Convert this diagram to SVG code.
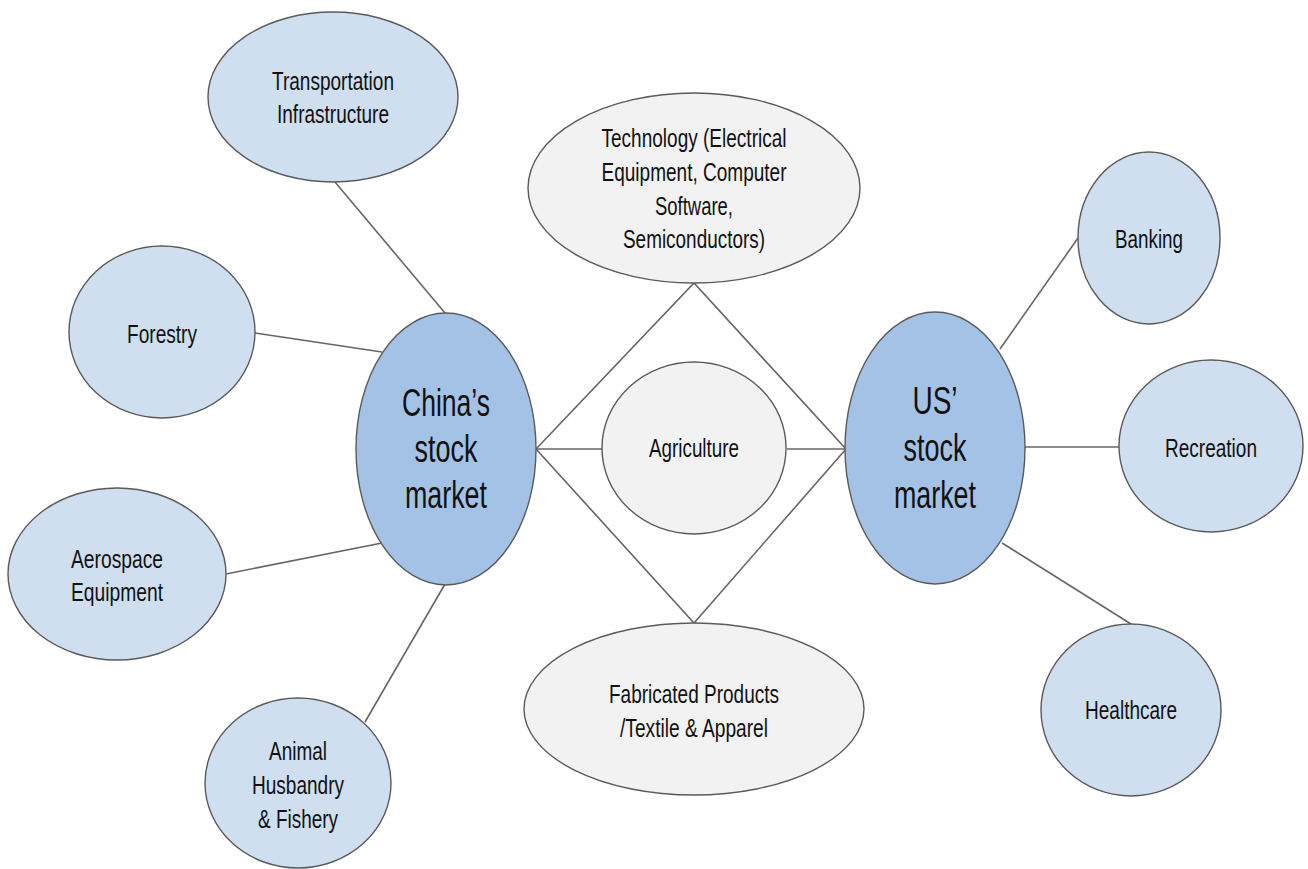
<svg xmlns="http://www.w3.org/2000/svg" width="1308" height="869" viewBox="0 0 1308 869">
<style>
.light{fill:#cfdff0;stroke:#5a5a5a;stroke-width:1.4}
.dark{fill:#a4c2e6;stroke:#5a5a5a;stroke-width:1.4}
.gray{fill:#f2f2f2;stroke:#5a5a5a;stroke-width:1.4}
.conn{stroke:#666;stroke-width:1.6;fill:none}
text{font-family:"Liberation Sans",Arial,sans-serif;fill:#111;text-anchor:middle}
.s{font-size:26px}
.b{font-size:38px}
</style>
<rect width="1308" height="869" fill="#fff"/>
<g id="connectors">
<line class="conn" x1="335" y1="182" x2="445" y2="313"/>
<line class="conn" x1="255" y1="333" x2="382" y2="352"/>
<line class="conn" x1="226" y1="574" x2="382" y2="543"/>
<line class="conn" x1="365" y1="722" x2="445" y2="584"/>
<path class="conn" d="M536,449 L694,283 L846,449 L694,623 Z"/>
<line class="conn" x1="536" y1="449" x2="602" y2="449"/>
<line class="conn" x1="787" y1="449" x2="846" y2="449"/>
<line class="conn" x1="1000" y1="349" x2="1078" y2="238"/>
<line class="conn" x1="1025" y1="447" x2="1119" y2="447"/>
<line class="conn" x1="1002" y1="543" x2="1131" y2="624"/>
</g>
<g id="transportation">
<ellipse class="light" cx="333" cy="97" rx="125" ry="85"/>
<text class="s" x="333" y="90" textLength="122" lengthAdjust="spacingAndGlyphs">Transportation</text>
<text class="s" x="333" y="123" textLength="112" lengthAdjust="spacingAndGlyphs">Infrastructure</text>
</g>
<g id="forestry">
<ellipse class="light" cx="162" cy="332" rx="93" ry="86"/>
<text class="s" x="162" y="343" textLength="70" lengthAdjust="spacingAndGlyphs">Forestry</text>
</g>
<g id="aerospace">
<ellipse class="light" cx="117" cy="574" rx="109" ry="86"/>
<text class="s" x="117" y="568" textLength="92" lengthAdjust="spacingAndGlyphs">Aerospace</text>
<text class="s" x="117" y="601" textLength="92" lengthAdjust="spacingAndGlyphs">Equipment</text>
</g>
<g id="animal">
<ellipse class="light" cx="298" cy="783" rx="93" ry="85"/>
<text class="s" x="298" y="760" textLength="58" lengthAdjust="spacingAndGlyphs">Animal</text>
<text class="s" x="298" y="794" textLength="92" lengthAdjust="spacingAndGlyphs">Husbandry</text>
<text class="s" x="298" y="828" textLength="80" lengthAdjust="spacingAndGlyphs">&amp; Fishery</text>
</g>
<g id="china">
<ellipse class="dark" cx="446" cy="449" rx="90" ry="136"/>
<text class="b" x="446" y="416" textLength="88" lengthAdjust="spacingAndGlyphs">China’s</text>
<text class="b" x="446" y="462" textLength="63" lengthAdjust="spacingAndGlyphs">stock</text>
<text class="b" x="446" y="508" textLength="82" lengthAdjust="spacingAndGlyphs">market</text>
</g>
<g id="technology">
<ellipse class="gray" cx="694" cy="188" rx="166" ry="95"/>
<text class="s" x="694" y="147" textLength="185" lengthAdjust="spacingAndGlyphs">Technology (Electrical</text>
<text class="s" x="694" y="181" textLength="185" lengthAdjust="spacingAndGlyphs">Equipment, Computer</text>
<text class="s" x="694" y="215" textLength="78" lengthAdjust="spacingAndGlyphs">Software,</text>
<text class="s" x="694" y="248" textLength="142" lengthAdjust="spacingAndGlyphs">Semiconductors)</text>
</g>
<g id="agriculture">
<ellipse class="gray" cx="694" cy="448" rx="92" ry="86"/>
<text class="s" x="694" y="457" textLength="90" lengthAdjust="spacingAndGlyphs">Agriculture</text>
</g>
<g id="fabricated">
<ellipse class="gray" cx="694" cy="709" rx="170" ry="86"/>
<text class="s" x="694" y="703" textLength="170" lengthAdjust="spacingAndGlyphs">Fabricated Products</text>
<text class="s" x="694" y="737" textLength="148" lengthAdjust="spacingAndGlyphs">/Textile &amp; Apparel</text>
</g>
<g id="us">
<ellipse class="dark" cx="935" cy="448" rx="90" ry="136"/>
<text class="b" x="935" y="414" textLength="45" lengthAdjust="spacingAndGlyphs">US’</text>
<text class="b" x="935" y="461" textLength="63" lengthAdjust="spacingAndGlyphs">stock</text>
<text class="b" x="935" y="508" textLength="82" lengthAdjust="spacingAndGlyphs">market</text>
</g>
<g id="banking">
<ellipse class="light" cx="1149" cy="238" rx="71" ry="86"/>
<text class="s" x="1149" y="248" textLength="68" lengthAdjust="spacingAndGlyphs">Banking</text>
</g>
<g id="recreation">
<ellipse class="light" cx="1211" cy="446" rx="92" ry="86"/>
<text class="s" x="1211" y="457" textLength="92" lengthAdjust="spacingAndGlyphs">Recreation</text>
</g>
<g id="healthcare">
<ellipse class="light" cx="1131" cy="710" rx="90" ry="86"/>
<text class="s" x="1131" y="719" textLength="92" lengthAdjust="spacingAndGlyphs">Healthcare</text>
</g>
</svg>
